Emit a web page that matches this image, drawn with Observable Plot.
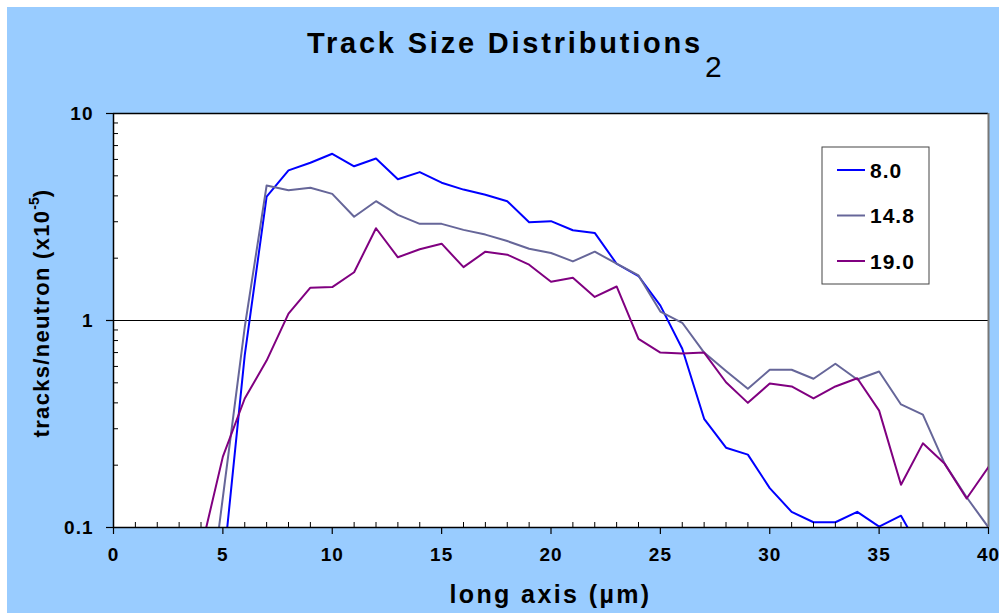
<!DOCTYPE html>
<html>
<head>
<meta charset="utf-8">
<script src="https://cdn.jsdelivr.net/npm/d3@7"></script>
<script src="https://cdn.jsdelivr.net/npm/@observablehq/plot@0.6"></script>
<style>
  html, body { margin: 0; padding: 0; background: #ffffff; }
  #wrap { position: relative; width: 999px; height: 613px; overflow: hidden; font-family: Arial, "Liberation Sans", sans-serif; }
  #bg { position: absolute; left: 7px; top: 7px; width: 992px; height: 606px; background: #99CCFF; }
  #chart { position: absolute; left: 0; top: 0; }
  .title { position: absolute; left: 307px; top: 26px; font-weight: bold; font-size: 29px; letter-spacing: 2.8px; color: #000; white-space: nowrap; }
  .title .sub { font-weight: normal; font-size: 30px; position: relative; top: 24px; margin-left: 2px; letter-spacing: 0; }
  .xlabel { position: absolute; left: 113px; width: 875px; top: 580px; text-align: center; font-weight: bold; font-size: 25px; letter-spacing: 2.4px; }
  .ylabel { position: absolute; left: 40px; top: 313px; transform: translate(-50%, -50%) rotate(-90deg); font-weight: bold; font-size: 22px; letter-spacing: 1.3px; white-space: nowrap; }
  .ylabel sup { font-size: 14px; vertical-align: 10px; letter-spacing: 0; }
</style>
</head>
<body>
<div id="wrap">
  <div id="bg"></div>
  <div id="chart"></div>
  <div class="title">Track Size Distributions<span class="sub">2</span></div>
  <div class="ylabel">tracks/neutron (x10<sup>-5</sup>)</div>
  <div class="xlabel">long axis (µm)</div>
</div>
<script>
// x positions (µm)
const xVals = [4,5,6,7,8,9,10,11,12,13,14,15,16,17,18,19,20,21,22,23,24,25,26,27,28,29,30,31,32,33,34,35,36,37,38,39,40];
// series values (tracks/neutron ×10^-5)
const s80  = [null,0.062,0.68,3.97,5.31,5.78,6.39,5.56,6.06,4.81,5.21,4.63,4.29,4.05,3.77,2.98,3.02,2.73,2.65,1.88,1.64,1.18,0.73,0.335,0.243,0.225,0.155,0.119,0.106,0.106,0.119,0.101,0.114,0.074,null,null,null];
const s148 = [0.021,0.14,0.93,4.49,4.26,4.38,4.09,3.17,3.77,3.24,2.93,2.93,2.74,2.60,2.42,2.22,2.12,1.93,2.15,1.88,1.65,1.105,0.975,0.70,0.57,0.468,0.578,0.578,0.523,0.618,0.519,0.567,0.393,0.351,0.203,0.14,0.1];
const s190 = [0.078,0.22,0.42,0.64,1.08,1.44,1.45,1.71,2.79,2.02,2.21,2.35,1.81,2.15,2.08,1.86,1.54,1.61,1.30,1.46,0.815,0.70,0.693,0.70,0.503,0.40,0.496,0.48,0.42,0.48,0.526,0.367,0.161,0.255,0.203,0.138,0.196];
const seriesNames = ["8.0", "14.8", "19.0"];
const seriesColors = ["#0000FF", "#666699", "#800080"];
// axis ticks
const xMajor = [0,5,10,15,20,25,30,35,40];
const xMinor = [1,2,3,4,6,7,8,9,11,12,13,14,16,17,18,19,21,22,23,24,26,27,28,29,31,32,33,34,36,37,38,39];
const yMajor = [0.1, 1, 10];
const yMinor = [0.2,0.3,0.4,0.5,0.6,0.7,0.8,0.9,2,3,4,5,6,7,8,9];

const allSeries = [s80, s148, s190];
const rows = [];
allSeries.forEach((vals, si) => {
  vals.forEach((v, i) => { if (v != null) rows.push({x: xVals[i], y: v, s: seriesNames[si]}); });
});

const fontCss = "font-family: Arial, 'Liberation Sans', sans-serif; font-weight: bold; font-size: 19px; letter-spacing: 1px;";

const plot = Plot.plot({
  width: 999,
  height: 613,
  marginLeft: 113,
  marginRight: 11,
  marginTop: 113,
  marginBottom: 86,
  style: "background: transparent; color: #000; " + fontCss,
  x: {domain: [0, 40]},
  y: {type: "log", domain: [0.1, 10]},
  color: {domain: seriesNames, range: seriesColors},
  marks: [
    Plot.frame({fill: "white", stroke: null}),
    Plot.ruleY([1], {stroke: "#000", strokeWidth: 1}),
    Plot.ruleY([10], {stroke: "#000", strokeWidth: 1.5}),
    Plot.ruleX([40], {stroke: "#777", strokeWidth: 2}),
    Plot.line(rows, {x: "x", y: "y", z: "s", stroke: "s", strokeWidth: 2, clip: true}),
    Plot.ruleX([0], {stroke: "#000", strokeWidth: 1.5}),
    Plot.ruleY([0.1], {stroke: "#000", strokeWidth: 1.5}),
    Plot.axisX({ticks: xMajor, tickSize: 7, tickPadding: 13, tickFormat: d => String(d), label: null, strokeWidth: 1.2}),
    Plot.axisX({ticks: xMinor, tickSize: -5, tickFormat: () => "", label: null}),
    Plot.axisY({ticks: yMajor, tickSize: 7, tickPadding: 13, tickFormat: d => String(d), label: null, strokeWidth: 1.2}),
    Plot.axisY({ticks: yMinor, tickSize: -5, tickFormat: () => "", label: null})
  ]
});
document.getElementById("chart").appendChild(plot);

// legend box appended to the plot's SVG
const svg = d3.select(plot);
const lg = svg.append("g");
lg.append("rect").attr("x", 822).attr("y", 147).attr("width", 107).attr("height", 137)
  .attr("fill", "white").attr("stroke", "#444").attr("stroke-width", 1);
seriesNames.forEach((name, i) => {
  const yy = 170 + i * 45.5;
  lg.append("line").attr("x1", 837).attr("x2", 865).attr("y1", yy).attr("y2", yy)
    .attr("stroke", seriesColors[i]).attr("stroke-width", 2);
  lg.append("text").attr("x", 870).attr("y", yy).attr("dy", "0.36em")
    .style("font-size", "21px").style("font-weight", "bold").style("text-anchor", "start")
    .style("letter-spacing", "1px").attr("fill", "#000").text(name);
});
</script>
</body>
</html>
